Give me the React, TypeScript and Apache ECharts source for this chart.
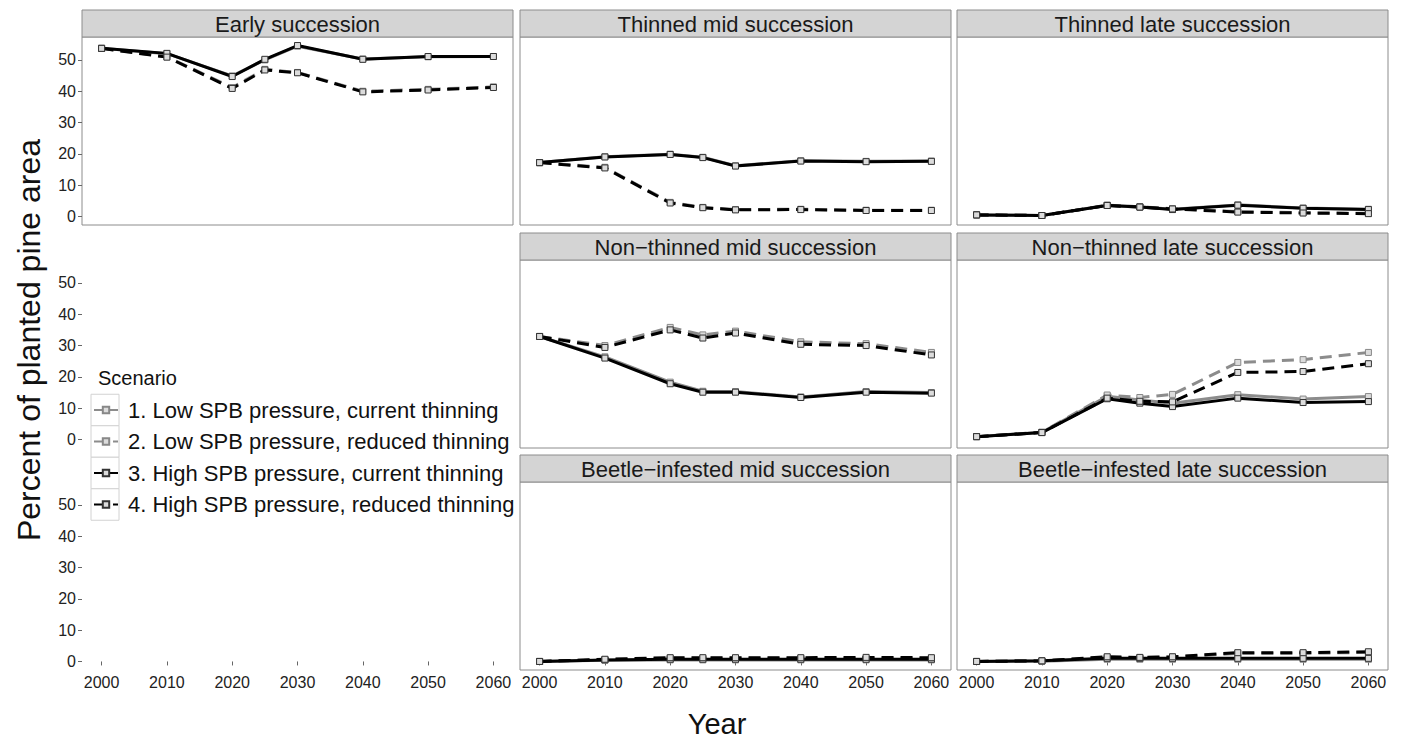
import React, { useEffect, useRef } from "react";
import * as echarts from "echarts";

const years = [2000, 2010, 2020, 2025, 2030, 2040, 2050, 2060];
const yearTicks = [2000, 2010, 2020, 2030, 2040, 2050, 2060];
const yTicks = [0, 10, 20, 30, 40, 50];
const scenarioNames = [
  "1. Low SPB pressure, current thinning",
  "2. Low SPB pressure, reduced thinning",
  "3. High SPB pressure, current thinning",
  "4. High SPB pressure, reduced thinning",
];
const panelTitles = [
  "Early succession",
  "Thinned mid succession",
  "Thinned late succession",
  "Non\u2212thinned mid succession",
  "Non\u2212thinned late succession",
  "Beetle\u2212infested mid succession",
  "Beetle\u2212infested late succession",
];

// values per panel, order: scenario 1, 2, 3, 4
const earlySuccession = [
  [53.7, 52.0, 44.9, 50.0, 54.4, 50.3, 51.0, 51.1],
  [53.7, 51.0, 41.2, 47.0, 46.0, 40.0, 40.6, 41.4],
  [53.7, 52.1, 44.7, 50.2, 54.6, 50.2, 51.1, 51.1],
  [53.7, 50.9, 40.9, 46.8, 45.9, 39.8, 40.4, 41.2],
];
const thinnedMid = [
  [17.2, 19.1, 19.9, 18.9, 16.2, 17.8, 17.6, 17.7],
  [17.2, 15.7, 4.5, 2.9, 2.2, 2.3, 2.0, 2.0],
  [17.2, 19.0, 19.8, 18.8, 16.1, 17.7, 17.5, 17.6],
  [17.2, 15.5, 4.3, 2.8, 2.1, 2.2, 1.9, 1.9],
];
const thinnedLate = [
  [0.5, 0.3, 3.6, 3.1, 2.3, 3.7, 2.7, 2.3],
  [0.5, 0.3, 3.6, 3.1, 2.5, 1.5, 1.2, 1.0],
  [0.5, 0.3, 3.5, 3.0, 2.2, 3.6, 2.6, 2.2],
  [0.5, 0.3, 3.5, 3.0, 2.4, 1.4, 1.1, 0.9],
];
const nonThinnedMid = [
  [32.9, 26.4, 18.3, 15.4, 15.3, 13.6, 15.3, 15.0],
  [32.9, 30.0, 35.8, 33.4, 34.6, 31.2, 30.6, 27.8],
  [32.9, 26.0, 17.8, 15.1, 15.1, 13.4, 15.1, 14.8],
  [32.9, 29.4, 35.0, 32.4, 34.0, 30.4, 30.0, 27.0],
];
const nonThinnedLate = [
  [0.9, 2.3, 13.8, 12.6, 11.6, 14.3, 12.9, 13.7],
  [0.9, 2.3, 14.2, 13.4, 14.4, 24.6, 25.5, 27.8],
  [0.9, 2.2, 13.0, 11.6, 10.5, 13.2, 11.8, 12.1],
  [0.9, 2.2, 13.2, 12.2, 12.0, 21.4, 21.7, 24.2],
];
const beetleMid = [
  [0, 0.4, 0.5, 0.5, 0.5, 0.5, 0.5, 0.5],
  [0, 0.6, 1.0, 1.0, 1.0, 1.0, 1.0, 1.0],
  [0, 0.5, 0.7, 0.7, 0.7, 0.7, 0.7, 0.7],
  [0, 0.7, 1.2, 1.2, 1.2, 1.2, 1.3, 1.2],
];
const beetleLate = [
  [0, 0.1, 0.7, 0.7, 0.7, 0.7, 0.7, 0.7],
  [0, 0.2, 1.3, 1.2, 1.4, 2.6, 2.6, 2.9],
  [0, 0.2, 1.0, 1.0, 1.0, 1.0, 1.0, 1.0],
  [0, 0.2, 1.5, 1.3, 1.5, 2.8, 2.8, 3.1],
];

const panelData = [earlySuccession, thinnedMid, thinnedLate, nonThinnedMid, nonThinnedLate, beetleMid, beetleLate];
// [row, col] of each panel
const panelCells = [[0, 0], [0, 1], [0, 2], [1, 1], [1, 2], [2, 1], [2, 2]];

const FONT = "'Liberation Sans', Arial, Helvetica, sans-serif";
const COL_LEFT = [82, 520, 957];
const PANEL_W = 431;
const ROW_TOP = [10, 233, 455];
const STRIP_H = 27;
const PLOT_H = 188;
const seriesColors = ["#8c8c8c", "#8c8c8c", "#000000", "#000000"];

export default function App() {
  const ref = useRef<HTMLDivElement>(null);
  useEffect(() => {
    if (!ref.current) return;
    const chart = echarts.init(ref.current, undefined, { renderer: "svg" });

    const grids: any[] = [];
    const xAxes: any[] = [];
    const yAxes: any[] = [];
    const graphics: any[] = [];
    const cellToGrid: Record<string, number> = {};

    for (let r = 0; r < 3; r++) {
      for (let c = 0; c < 3; c++) {
        const hasPanel = panelCells.some(([pr, pc]) => pr === r && pc === c);
        const gi = grids.length;
        cellToGrid[r + "-" + c] = gi;
        grids.push({
          left: COL_LEFT[c],
          top: ROW_TOP[r] + STRIP_H,
          width: PANEL_W,
          height: PLOT_H,
          show: hasPanel,
          borderColor: "#8c8c8c",
          borderWidth: 1,
          backgroundColor: "#ffffff",
        });
        const showX = r === 2;
        const showY = c === 0;
        xAxes.push({
          type: "value",
          gridIndex: gi,
          min: 1997,
          max: 2063,
          axisLine: { show: false },
          splitLine: { show: false },
          axisTick: { show: showX, length: 4, customValues: yearTicks, lineStyle: { color: "#666" } },
          axisLabel: {
            show: showX,
            customValues: yearTicks,
            formatter: (v: number) => String(v),
            margin: 4,
            fontSize: 16,
            color: "#222",
            fontFamily: FONT,
          },
        });
        yAxes.push({
          type: "value",
          gridIndex: gi,
          min: -2.73,
          max: 57.33,
          axisLine: { show: false },
          splitLine: { show: false },
          axisTick: { show: showY, length: 4, customValues: yTicks, lineStyle: { color: "#666" } },
          axisLabel: {
            show: showY,
            customValues: yTicks,
            margin: 6,
            fontSize: 16,
            color: "#222",
            fontFamily: FONT,
          },
        });
      }
    }

    const series: any[] = [];
    panelData.forEach((vals, p) => {
      const [r, c] = panelCells[p];
      const gi = cellToGrid[r + "-" + c];
      graphics.push({
        type: "rect",
        shape: { x: COL_LEFT[c], y: ROW_TOP[r], width: PANEL_W, height: STRIP_H },
        style: { fill: "#d4d4d4", stroke: "#8c8c8c", lineWidth: 1 },
        z: 10,
      });
      graphics.push({
        type: "text",
        x: COL_LEFT[c] + PANEL_W / 2,
        y: ROW_TOP[r] + STRIP_H / 2 + 1,
        style: {
          text: panelTitles[p],
          align: "center",
          verticalAlign: "middle",
          fontSize: 22,
          fontFamily: FONT,
          fill: "#1a1a1a",
        },
        z: 11,
      });
      vals.forEach((arr, s) => {
        series.push({
          type: "line",
          name: scenarioNames[s],
          xAxisIndex: gi,
          yAxisIndex: gi,
          data: years.map((yr, i) => [yr, arr[i]]),
          symbol: "rect",
          symbolSize: 6,
          showSymbol: true,
          lineStyle: { color: seriesColors[s], width: 3, type: s % 2 === 1 ? [12, 7] : "solid" },
          itemStyle: { color: "#dcdcdc", borderColor: seriesColors[s] === "#000000" ? "#333" : "#888", borderWidth: 1 },
          emphasis: { disabled: true },
          z: s >= 2 ? 3 : 2,
        });
      });
    });

    // legend key boxes
    const legendCenters = [410, 441.5, 473, 504.5];
    legendCenters.forEach((cy) => {
      graphics.push({
        type: "rect",
        shape: { x: 91, y: cy - 15.75, width: 28, height: 31.5 },
        style: { fill: "#ffffff", stroke: "#d2d2d2", lineWidth: 1 },
        z: 0,
      });
    });
    graphics.push({
      type: "text",
      x: 98,
      y: 378,
      style: { text: "Scenario", align: "left", verticalAlign: "middle", fontSize: 20, fontFamily: FONT, fill: "#111" },
    });
    graphics.push({
      type: "text",
      x: 29,
      y: 340,
      rotation: Math.PI / 2,
      style: {
        text: "Percent of planted pine area",
        align: "center",
        verticalAlign: "middle",
        fontSize: 32,
        fontFamily: FONT,
        fill: "#111",
      },
    });
    graphics.push({
      type: "text",
      x: 717,
      y: 724,
      style: { text: "Year", align: "center", verticalAlign: "middle", fontSize: 29, fontFamily: FONT, fill: "#111" },
    });

    chart.setOption({
      animation: false,
      backgroundColor: "#ffffff",
      grid: grids,
      xAxis: xAxes,
      yAxis: yAxes,
      series,
      legend: {
        orient: "vertical",
        left: 93,
        top: 399,
        padding: 0,
        itemWidth: 24,
        itemHeight: 8,
        itemGap: 9.5,
        data: scenarioNames,
        selectedMode: false,
        textStyle: { fontSize: 22, lineHeight: 22, color: "#111", fontFamily: FONT, padding: [0, 0, 0, 5] },
      },
      graphic: graphics,
    });
    return () => chart.dispose();
  }, []);
  return <div ref={ref} style={{ position: "absolute", left: 0, top: 0, width: 1403, height: 744 }} />;
}
